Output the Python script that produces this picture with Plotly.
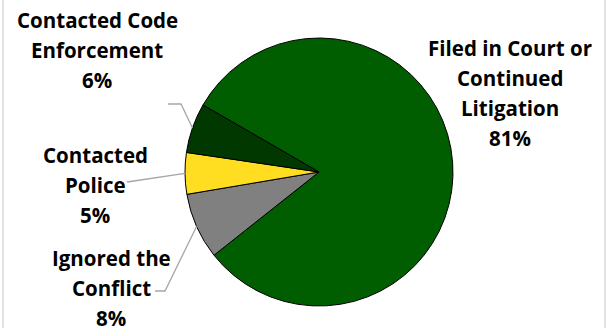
import math
import plotly.graph_objects as go

# Survey responses: how the dispute was handled
categories = ["Filed in Court or Continued Litigation", "Ignored the Conflict",
              "Contacted Police", "Contacted Code Enforcement"]
shares = [81, 8, 5, 6]
label_lines = [["Filed in Court or", "Continued", "Litigation"],
               ["Ignored the", "Conflict"],
               ["Contacted", "Police"],
               ["Contacted Code", "Enforcement"]]
colors = ["#005E00", "#808080", "#FFDE21", "#003800"]

W, H = 613, 328
CX, CY, R = 319, 172, 134          # pie centre and radius in pixels
START_DEG = 150                    # first slice starts here (math angle), runs clockwise

# label block placement: (centre x, first-line centre y) in pixels
label_pos = [(510, 48), (111, 258), (95, 155), (97, 20)]
LINE_STEP = 30
# leader line start (label side) and optional elbow, pixels; None = no leader
leader_start = [None, [(155, 291), (165, 291)], [(127, 182)], [(168, 104), (181, 104)]]


def px(x):
    return x / W


def py(y):
    return 1 - y / H


fig = go.Figure(go.Pie(
    labels=categories,
    values=shares,
    sort=False,
    direction="clockwise",
    rotation=90 - START_DEG,
    marker=dict(colors=colors, line=dict(color="#000000", width=1)),
    textinfo="none",
    hoverinfo="label+percent",
    domain=dict(x=[px(CX - 150), px(CX + 150)], y=[py(CY + R), py(CY - R)]),
    showlegend=False,
))

annotations = []
shapes = []
total = sum(shares)
acc = 0
for i, (name, v) in enumerate(zip(categories, shares)):
    mid = START_DEG - 360 * (acc + v / 2) / total
    acc += v
    lx, ly = label_pos[i]
    lines = label_lines[i] + [f"{v}%"]
    for k, t in enumerate(lines):
        annotations.append(dict(
            text=f"<b>{t}</b>", x=px(lx), y=py(ly + k * LINE_STEP),
            xref="paper", yref="paper", xanchor="center", yanchor="middle",
            showarrow=False, font=dict(family="Open Sans", size=20.5, color="#000000"),
        ))
    if leader_start[i]:
        ex = CX + R * math.cos(math.radians(mid))
        ey = CY - R * math.sin(math.radians(mid))
        pts = leader_start[i] + [(ex, ey)]
        path = "M " + " L ".join(f"{px(a):.5f},{py(b):.5f}" for a, b in pts)
        shapes.append(dict(type="path", path=path, xref="paper", yref="paper",
                           line=dict(color="#A6A6A6", width=1.3)))

# chart-area frame (left and right edges)
for xe in (3, 605):
    shapes.append(dict(type="line", xref="paper", yref="paper",
                       x0=px(xe), x1=px(xe), y0=0, y1=1,
                       line=dict(color="#D9D9D9", width=1.5)))

fig.update_layout(
    width=W, height=H,
    margin=dict(l=0, r=0, t=0, b=0),
    paper_bgcolor="#FFFFFF", plot_bgcolor="#FFFFFF",
    annotations=annotations, shapes=shapes,
)

fig.write_html("out.html")
